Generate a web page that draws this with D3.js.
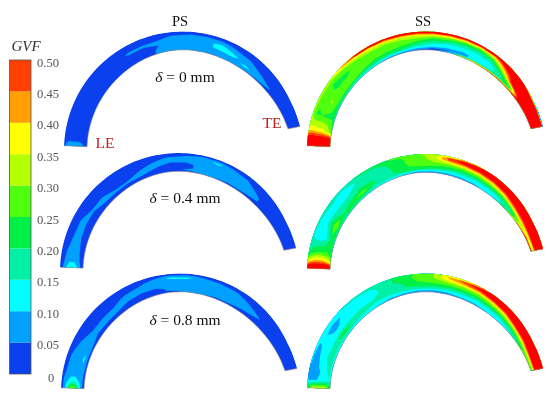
<!DOCTYPE html>
<html><head><meta charset="utf-8">
<script src="https://cdn.jsdelivr.net/npm/d3@7"></script>
<style>html,body{margin:0;background:#fff}svg{display:block;filter:blur(.35px)}text{font-family:"Liberation Serif",serif}</style>
</head><body><svg id="c" width="550" height="403"></svg>
<script>
// Contour levels and legend (GVF, in percent for the fields)
const gvfLevels=[0,5,10,15,20,25,30,35,40,45,50];
const levelColors=["#0a40ee","#00a0ff","#00ffff","#00f0a8","#00f048","#50ff10","#b4ff00","#ffff00","#ffa000","#ff4000","#ff0000"];
const tickValues=[0,0.05,0.10,0.15,0.20,0.25,0.30,0.35,0.40,0.45,0.50];
// Sample positions: along the blade (LE=0,TE=1) and across it (outer=0, inner=1)
const chordPos=[.005,.025,.05,.1,.15,.2,.25,.3,.35,.4,.45,.5,.55,.6,.65,.7,.75,.8,.85,.9,.95,1];
const spanPos=[.03,.1,.22,.4,.6,.78,.9,.97];
// GVF (%); one row per chord position, outer -> inner
const ps0=[[2,6,8,8,8,6,2,2],[2,2,2,2,2,2,2,2],[2,2,2,2,2,2,2,2],[2,2,2,2,2,2,2,2],[2,2,2,2,2,2,2,2],[2,2,2,2,2,2,2,2],[2,2,2,2,2,2,2,2],[2,2,2,2,2,2,2,2],[2,2,3,6,3,2,2,2],[2,2,3,6,3,2,3,2],[2,2,3,6,5,6,6,6],[2,2,6,7,8,8,7,6],[2,3,8,8,8,8,8,7],[2,3,8,9,9,8,8,7],[2,3,8,11,11,8,8,7],[2,2,4,8,11,9,8,6],[2,2,2,6,8,11,8,5],[2,2,2,2,6,8,7,3],[2,2,2,2,2,6,4,2],[2,2,2,2,2,2,2,2],[2,2,2,2,2,2,2,2],[2,2,2,2,2,2,2,2]];
const ps1=[[2,4,9,12,12,9,4,2],[2,3,6,9,9,6,3,2],[2,2,5,7,7,5,3,2],[2,2,3,6,7,3,2,2],[2,2,2,6,6,2,2,2],[2,2,2,2,6,3,2,2],[2,2,2,2,6,6,2,2],[2,2,2,2,3,6,3,2],[2,2,2,2,3,6,3,2],[2,2,2,3,6,6,2,2],[2,2,3,6,6,3,2,2],[2,2,6,7,3,2,2,2],[2,3,8,7,3,3,6,2],[2,6,9,7,7,7,6,5],[2,6,11,8,7,7,6,5],[2,3,8,8,8,7,6,3],[2,2,5,7,8,7,6,2],[2,2,2,4,6,6,3,2],[2,2,2,2,3,3,2,2],[2,2,2,2,2,2,2,2],[2,2,2,2,2,2,2,2],[2,2,2,2,2,2,2,2]];
const ps2=[[2,6,12,26,26,12,6,2],[2,6,9,12,12,9,6,2],[2,4,7,8,8,8,6,2],[2,3,6,7,8,11,6,2],[2,2,3,6,6,8,6,2],[2,2,2,2,6,6,2,2],[2,2,2,2,6,6,3,2],[2,2,2,3,6,6,2,2],[2,2,2,6,7,3,2,2],[2,2,3,8,6,2,2,2],[2,3,8,8,6,3,3,2],[2,6,11,8,8,7,6,3],[2,6,11,8,8,8,7,6],[2,4,8,8,8,8,7,6],[2,3,8,8,8,7,6,3],[2,2,6,8,8,7,6,2],[2,2,3,6,8,6,3,2],[2,2,2,3,6,4,2,2],[2,2,2,2,3,2,2,2],[2,2,2,2,2,2,2,2],[2,2,2,2,2,2,2,2],[2,2,2,2,2,2,2,2]];
const ss0=[[60,60,60,60,60,60,60,60],[55,55,55,55,55,55,55,55],[36,38,38,37,37,34,30,26],[30,26,24,25,24,24,24,18],[32,28,27,28,31,27,23,16],[34,29,25,24,26,30,22,15],[40,32,27,24,26,30,21,14],[50,36,30,27,28,25,18,12],[55,40,31,28,26,24,16,11],[55,42,31,28,26,22,14,8],[58,45,33,28,26,20,12,8],[60,45,34,28,22,15,9,5],[60,45,32,24,17,12,5,4],[58,45,32,21,14,10,4,8],[55,43,28,18,13,9,7,30],[55,42,26,17,13,11,14,40],[60,45,32,19,14,12,16,45],[60,58,52,40,25,18,18,48],[60,60,60,60,55,30,24,48],[40,60,60,60,60,60,55,55],[10,60,60,60,60,60,60,60],[3,60,60,60,60,60,60,60]];
const ss1=[[60,60,60,60,60,60,60,60],[32,36,40,42,42,40,36,32],[20,22,24,26,26,26,24,20],[15,14,12,12,14,20,22,18],[17,14,13,15,22,31,25,18],[18,16,14,14,18,20,20,16],[18,14,12,14,17,24,22,16],[20,17,15,17,21,28,20,14],[22,19,17,19,20,20,16,13],[24,22,20,19,18,18,15,12],[27,25,24,24,24,22,15,10],[28,28,28,28,26,22,13,7],[34,32,32,30,26,20,11,8],[36,48,46,32,24,17,11,7],[42,55,50,32,22,15,11,8],[50,58,52,33,22,14,11,9],[55,60,55,37,24,14,12,12],[60,60,60,44,26,16,14,18],[60,60,60,55,37,20,18,30],[60,60,60,60,45,33,30,45],[60,60,60,60,55,36,40,55],[60,60,60,60,60,34,36,60]];
const ss2=[[20,24,30,30,30,30,26,22],[10,9,9,10,13,14,15,13],[9,7,7,9,11,14,16,13],[11,7,8,12,14,20,16,12],[12,11,11,12,14,18,15,12],[14,12,8,9,13,24,18,13],[15,13,11,12,14,20,15,12],[16,13,11,12,15,18,14,11],[17,15,13,13,15,15,12,10],[19,18,18,17,16,15,12,8],[22,22,22,20,19,16,11,7],[26,26,26,25,23,17,10,7],[30,30,30,27,23,16,9,8],[38,42,38,30,22,15,10,9],[36,48,44,30,22,15,11,9],[45,55,48,30,22,14,11,9],[55,60,56,35,24,15,11,10],[60,60,60,42,26,16,12,11],[60,60,60,55,32,20,15,14],[60,60,60,60,42,28,20,22],[60,60,60,60,55,36,28,30],[60,60,60,60,60,40,30,28]];
const fields=[ps0,ps1,ps2,ss0,ss1,ss2];
const deltaLabels=["0","0.4","0.8"];

const svg=d3.select("#c");
// layout
const offsets=[[0,0],[-4,121.5],[-3,242],[243,0],[243,122.5],[243,242]];
const center=[183,150];
const ang=d3.scaleLinear([0,1],[178,11.4]);
const innerAt=d3.interpolateBasis([96,96,97.5,101,99,100.5,107]);
const toU=d3.scaleLinear([178,11.4],[0,1]);
const innerR=a=>innerAt(toU(a));
const outerRadius=d3.scaleLinear([178,25,11.4],[119,118,119.4]);
const rad=d=>d*Math.PI/180;
// each grid is padded by one replicated row/column so contours run past the clip edge
const padPos=(p,e)=>[p[0]-2*e,p[0]-e,...p,p[p.length-1]+e,p[p.length-1]+2*e];
const chordP=padPos(chordPos,.02),spanP=padPos(spanPos,.03);
const yToT=d3.scaleLinear([0,...d3.range(chordPos.length+2).map(i=>i+.5),chordPos.length+2],chordP);
const xToS=d3.scaleLinear([0,...d3.range(spanPos.length+2).map(i=>i+.5),spanPos.length+2],spanP);
function blade(t,s){
  const a=ang(t),r=outerRadius(a),q=innerR(a),c=Math.cos(rad(a)),n=Math.sin(rad(a)),l=r+(q-r)*s;
  return [center[0]+l*c,center[1]-l*n];
}
const proj=d3.geoTransform({point(x,y){const p=blade(yToT(y),xToS(x));this.stream.point(p[0],p[1]);}});
const path=d3.geoPath(proj);
const contours=d3.contours().size([spanPos.length+2,chordPos.length+2]).thresholds(gvfLevels).smooth(true);
const pad=f=>{const rows=f.map(r=>[r[0],...r,r[r.length-1]]);return [rows[0],...rows,rows[rows.length-1]];};
const edgeT=d3.range(0,1.0001,.01);
const edge=d3.line();
const outline=[...edgeT.map(t=>blade(t,0)),...edgeT.slice().reverse().map(t=>blade(t,1))];
svg.append("clipPath").attr("id","bladeClip").append("path").attr("d",edge(outline)+"Z");

fields.forEach((f,i)=>{
  const g=svg.append("g").attr("transform",`translate(${offsets[i]})`);
  g.append("g").attr("clip-path","url(#bladeClip)").selectAll("path").data(contours(pad(f).flat())).join("path")
    .attr("d",path).attr("fill",d=>levelColors[gvfLevels.indexOf(d.value)]);
  g.append("path").attr("d",edge(edgeT.map(t=>blade(t,1)))).attr("fill","none").attr("stroke","#a09080").attr("stroke-width",.6);
  g.append("path").attr("d",edge([blade(0,0),blade(0,1)])).attr("fill","none").attr("stroke","#a09080").attr("stroke-width",.5);
  g.append("path").attr("d",edge([blade(1,0),blade(1,1)])).attr("fill","none").attr("stroke","#a08070").attr("stroke-width",.7);
});

// colour bar
const yBar=d3.scaleLinear([0,.5],[374,60]);
svg.append("g").selectAll("rect").data(tickValues.slice(0,-1)).join("rect")
  .attr("x",9.5).attr("width",21.5).attr("y",d=>yBar(d+.05)).attr("height",d=>yBar(d)-yBar(d+.05))
  .attr("fill",(d,i)=>levelColors[i]);
svg.append("rect").attr("x",9.5).attr("width",21.5).attr("y",yBar(.5)).attr("height",yBar(0)-yBar(.5)).attr("fill","none").attr("stroke","#555").attr("stroke-width",.8);
const ax=svg.append("g").attr("transform","translate(31,2)").call(d3.axisRight(yBar).tickValues(tickValues).tickSize(0).tickPadding(6).tickFormat(d=>d===0?"0":d3.format(".2f")(d)));
ax.select(".domain").remove();
ax.selectAll("text").attr("font-size",12.5).attr("fill","#555").attr("font-family","Liberation Serif");
ax.selectAll("text").filter(d=>d===0).attr("dy","0.45em").attr("dx",11);

const txt=(x,y,s,o={})=>svg.append("text").attr("x",x).attr("y",y).attr("text-anchor",o.a||"middle").attr("font-size",o.fs||14).attr("fill",o.c||"#111").attr("font-style",o.it?"italic":null).text(s);
txt(26,51,"GVF",{it:1,fs:15,c:"#333"});
txt(180,26,"PS",{fs:14.5});txt(423,26,"SS",{fs:14.5});
txt(105,148,"LE",{c:"#b82020",fs:15.5});txt(272,128,"TE",{c:"#b82020",fs:15.5});
[82,203,325].forEach((y,i)=>{
  const t=txt(185,y,"",{fs:15.5});
  t.append("tspan").attr("font-style","italic").text("δ");
  t.append("tspan").text(` = ${deltaLabels[i]} mm`);
});
</script></body></html>
